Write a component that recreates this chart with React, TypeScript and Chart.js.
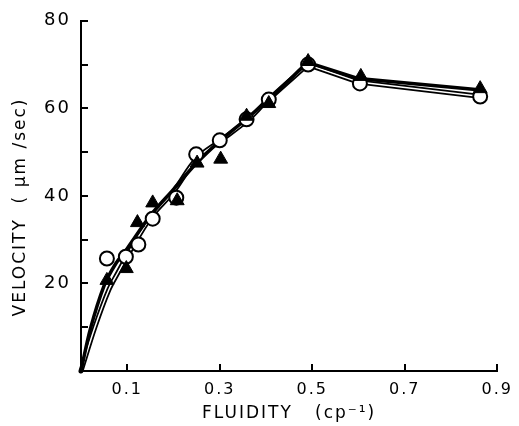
import React, { useEffect, useRef } from "react";
import { Chart, registerables } from "chart.js";

Chart.register(...registerables);

// Tick positions
const xTickValues = [0.1, 0.3, 0.5, 0.7, 0.9];
const yLabelValues = [20, 40, 60, 80];

// Open circles
const circleX = [0.056, 0.097, 0.124, 0.155, 0.206, 0.249, 0.3, 0.358, 0.406, 0.491, 0.603, 0.863];
const circleY = [25.7, 26.1, 28.9, 34.8, 39.6, 49.5, 52.7, 57.5, 62.0, 70.0, 65.7, 62.7];

// Filled triangles
const triangleX = [0.056, 0.098, 0.122, 0.155, 0.208, 0.251, 0.302, 0.358, 0.406, 0.491, 0.605, 0.863];
const triangleY = [20.7, 23.4, 33.9, 38.4, 38.9, 47.5, 48.4, 58.2, 61.1, 70.7, 67.3, 64.5];

// Fitted curves: rising smooth part, then straight falling part
const circleRiseX = [0, 0.03, 0.06, 0.08, 0.1, 0.15, 0.2, 0.25, 0.3, 0.36, 0.4, 0.49];
const circleRiseY = [0, 10, 18.5, 22.5, 26.3, 35, 41, 48.5, 52.5, 57.3, 61.5, 70.0];
const circleFallX = [0.49, 0.6, 0.865];
const circleFallY = [70.0, 66.0, 62.7];
const triangleRiseX = [0, 0.02, 0.05, 0.075, 0.1, 0.15, 0.2, 0.25, 0.3, 0.36, 0.4, 0.49];
const triangleRiseY = [0, 9.5, 19.5, 24.5, 28, 35.5, 41.5, 47.5, 52.5, 57.8, 61.5, 70.5];
const triangleFallX = [0.49, 0.6, 0.865];
const triangleFallY = [70.5, 66.8, 64.2];

const toPts = (xs: number[], ys: number[]) => xs.map((x, i) => ({ x, y: ys[i] }));

const FONT = "'DejaVu Sans', sans-serif";

const innerTicks = {
  id: "innerTicks",
  beforeDraw(chart: any) {
    chart.ctx.letterSpacing = "2px";
  },
  afterDraw(chart: any) {
    const { ctx, chartArea, scales } = chart;
    const x = scales.x;
    const y = scales.y;
    ctx.save();
    ctx.strokeStyle = "#000";
    ctx.lineWidth = 2;
    ctx.beginPath();
    y.ticks.forEach((t: any) => {
      if (t.value === 0) return;
      const py = Math.round(y.getPixelForValue(t.value));
      ctx.moveTo(chartArea.left, py);
      ctx.lineTo(chartArea.left + 7, py);
    });
    xTickValues.forEach((v) => {
      const px = Math.round(x.getPixelForValue(v));
      ctx.moveTo(px, chartArea.bottom);
      ctx.lineTo(px, chartArea.bottom - 7);
    });
    ctx.stroke();
    ctx.restore();
  },
};

const lineDs = (label: string, xs: number[], ys: number[], color: string, width: number, order: number, smooth: boolean) => ({
  label,
  data: toPts(xs, ys),
  showLine: true,
  pointRadius: 0,
  borderColor: color,
  borderWidth: width,
  tension: smooth ? 0.35 : 0,
  borderJoinStyle: "round",
  borderCapStyle: "round",
  order,
});

export default function App() {
  const ref = useRef<HTMLCanvasElement | null>(null);
  useEffect(() => {
    if (!ref.current) return;
    const chart = new Chart(ref.current, {
      type: "scatter",
      data: {
        datasets: [
          {
            label: "triangles",
            data: toPts(triangleX, triangleY),
            showLine: false,
            pointStyle: "triangle",
            pointRadius: 8,
            pointBackgroundColor: "#000",
            pointBorderColor: "#000",
            pointBorderWidth: 1,
            order: 1,
          },
          {
            label: "circles",
            data: toPts(circleX, circleY),
            showLine: false,
            pointStyle: "circle",
            pointRadius: 7,
            pointBackgroundColor: "#fff",
            pointBorderColor: "#000",
            pointBorderWidth: 2,
            order: 2,
          },
          lineDs("triangle fit rise", triangleRiseX, triangleRiseY, "#000", 3.5, 3, true),
          lineDs("triangle fit fall", triangleFallX, triangleFallY, "#000", 3.5, 3, false),
          lineDs("circle fit rise inner", circleRiseX, circleRiseY, "#fff", 1.5, 4, true),
          lineDs("circle fit fall inner", circleFallX, circleFallY, "#fff", 1.5, 4, false),
          lineDs("circle fit rise outline", circleRiseX, circleRiseY, "#000", 5, 5, true),
          lineDs("circle fit fall outline", circleFallX, circleFallY, "#000", 5, 5, false),
        ] as any,
      },
      options: {
        animation: false,
        responsive: true,
        maintainAspectRatio: false,
        layout: { padding: { top: 19, right: 19, left: 0, bottom: 0 } },
        plugins: { legend: { display: false }, tooltip: { enabled: false } },
        datasets: { scatter: { clip: false } } as any,
        scales: {
          x: {
            type: "linear",
            min: 0,
            max: 0.9,
            afterBuildTicks: (s: any) => {
              s.ticks = xTickValues.map((v) => ({ value: v }));
            },
            afterFit: (s: any) => {
              s.height = 55;
            },
            ticks: {
              color: "#000",
              font: { family: FONT, size: 16 },
              padding: 9,
              maxRotation: 0,
              callback: (v: any) => Number(v).toFixed(1),
            },
            grid: { display: true, drawOnChartArea: false, drawTicks: false },
            border: { display: true, color: "#000", width: 2 },
            title: {
              display: true,
              text: "FLUIDITY   (cp\u207B\u00B9)",
              color: "#000",
              font: { family: FONT, size: 17 },
              padding: { top: 0, bottom: 2 },
            },
          },
          y: {
            type: "linear",
            min: 0,
            max: 80,
            ticks: {
              stepSize: 10,
              color: "#000",
              font: { family: FONT, size: 18 },
              padding: 10,
              callback: (v: any) => (yLabelValues.includes(Number(v)) ? String(v) : ""),
            },
            afterFit: (s: any) => {
              s.width = 81;
            },
            grid: { display: true, drawOnChartArea: false, drawTicks: false },
            border: { display: true, color: "#000", width: 2 },
            title: {
              display: true,
              text: "VELOCITY  ( \u03BCm /sec)   ",
              color: "#000",
              font: { family: FONT, size: 17 },
              padding: { top: 10, bottom: 0 },
            },
          },
        },
      },
      plugins: [innerTicks],
    });
    return () => chart.destroy();
  }, []);
  return (
    <div style={{ position: "fixed", left: 0, top: 0, width: 519, height: 426, background: "#fff" }}>
      <canvas ref={ref} />
    </div>
  );
}
